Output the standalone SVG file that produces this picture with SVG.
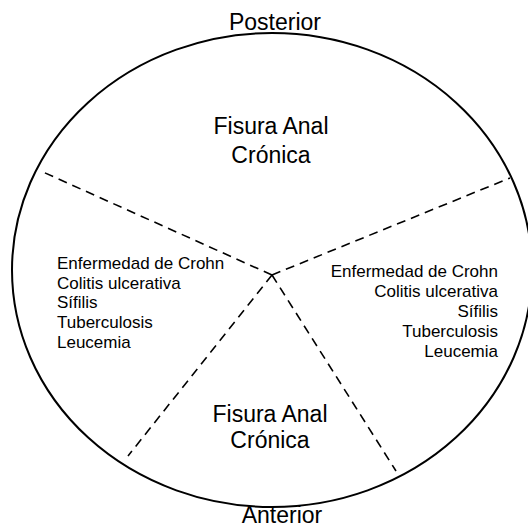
<svg xmlns="http://www.w3.org/2000/svg" width="528" height="529" viewBox="0 0 528 529">
<style>
.big{font-family:"Liberation Sans",Arial,sans-serif;font-size:23px;fill:#000;text-anchor:middle}
.sm{font-family:"Liberation Sans",Arial,sans-serif;font-size:17px;fill:#000}
.dash{stroke:#000;stroke-width:1.6;stroke-dasharray:9 6;fill:none}
</style>
<rect width="528" height="529" fill="#fff"/>
<g id="circle">
<ellipse cx="272" cy="270" rx="260" ry="237" fill="none" stroke="#000" stroke-width="2"/>
</g>
<g id="connectors">
<line class="dash" x1="272" y1="275" x2="43" y2="172"/>
<line class="dash" x1="272" y1="275" x2="510" y2="178"/>
<line class="dash" x1="272" y1="275" x2="128" y2="456"/>
<line class="dash" x1="272" y1="275" x2="396" y2="471"/>
</g>
<g id="posterior"><text class="big" x="275" y="30">Posterior</text></g>
<g id="anterior"><text class="big" x="282" y="523">Anterior</text></g>
<g id="top-fisura">
<text class="big" x="271" y="134">Fisura Anal</text>
<text class="big" x="271" y="163">Crónica</text>
</g>
<g id="bottom-fisura">
<text class="big" x="270" y="422">Fisura Anal</text>
<text class="big" x="270" y="448">Crónica</text>
</g>
<g id="left-list">
<text class="sm" x="57" y="269">Enfermedad de Crohn</text>
<text class="sm" x="57" y="289">Colitis ulcerativa</text>
<text class="sm" x="57" y="308">Sífilis</text>
<text class="sm" x="57" y="328">Tuberculosis</text>
<text class="sm" x="57" y="348">Leucemia</text>
</g>
<g id="right-list" text-anchor="end">
<text class="sm" x="498" y="277">Enfermedad de Crohn</text>
<text class="sm" x="498" y="297">Colitis ulcerativa</text>
<text class="sm" x="498" y="317">Sífilis</text>
<text class="sm" x="498" y="337">Tuberculosis</text>
<text class="sm" x="498" y="357">Leucemia</text>
</g>
</svg>
